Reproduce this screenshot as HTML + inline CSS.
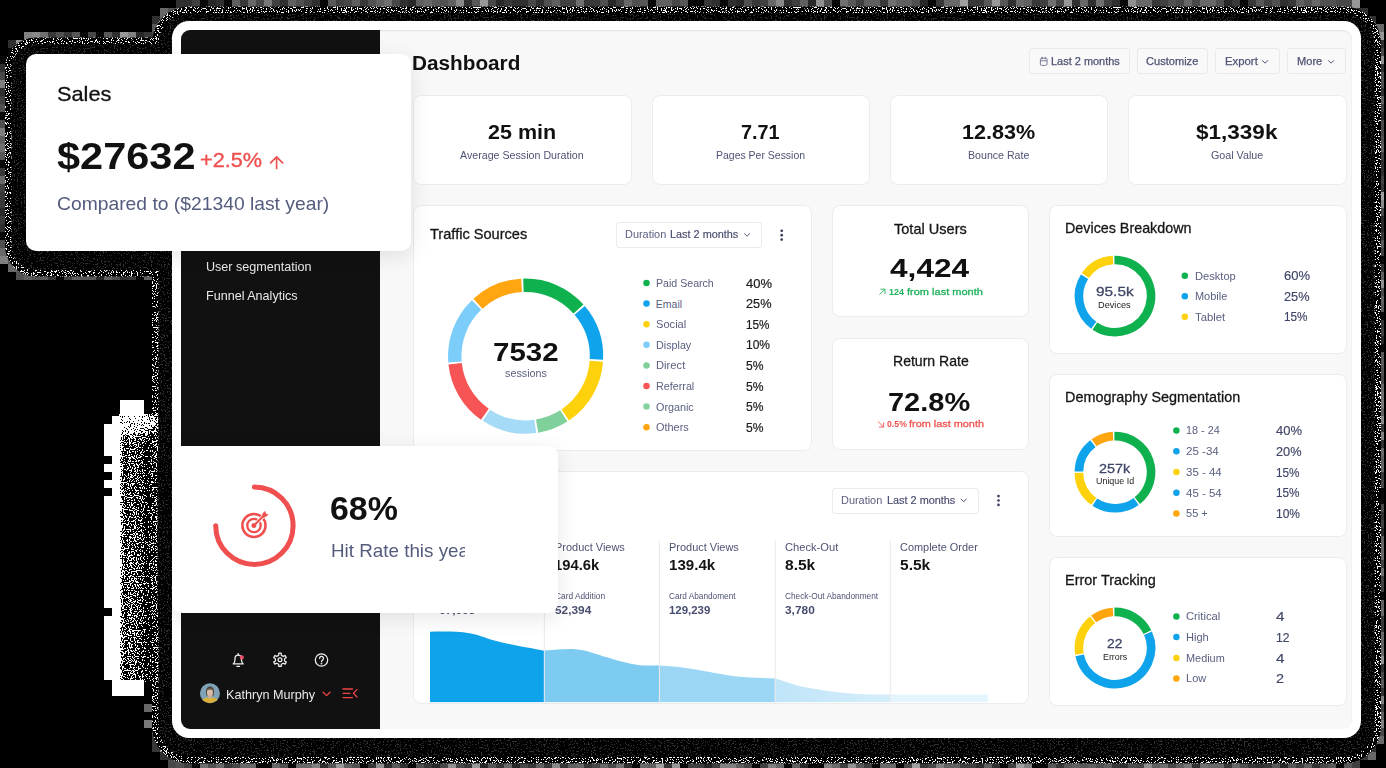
<!DOCTYPE html>
<html><head><meta charset="utf-8"><title>Dashboard</title>
<style>
html,body{margin:0;padding:0}
body{width:1386px;height:768px;background:#000;position:relative;overflow:hidden;font-family:"Liberation Sans",sans-serif}
.t{position:absolute;white-space:nowrap;line-height:1;display:block;transform-origin:0 0}
svg{position:absolute;left:0;top:0;overflow:visible}
</style></head><body>
<svg width="1386" height="768" viewBox="0 0 1386 768"><defs><filter id="nz" x="0" y="0" width="1386" height="768" filterUnits="userSpaceOnUse" color-interpolation-filters="sRGB"><feTurbulence type="fractalNoise" baseFrequency="0.8" numOctaves="2" seed="5" result="n"/><feColorMatrix in="n" type="matrix" values="0 0 0 0 1  0 0 0 0 1  0 0 0 0 1  60 0 0 0 -35.4" result="d"/><feComposite in="d" in2="SourceAlpha" operator="in"/></filter><filter id="nz2" x="0" y="0" width="1386" height="768" filterUnits="userSpaceOnUse" color-interpolation-filters="sRGB"><feTurbulence type="fractalNoise" baseFrequency="0.7" numOctaves="2" seed="11" result="n"/><feColorMatrix in="n" type="matrix" values="0 0 0 0 1  0 0 0 0 1  0 0 0 0 1  30 0 0 0 -18.2" result="d"/><feComposite in="d" in2="SourceAlpha" operator="in"/></filter><filter id="cn" x="96" y="390" width="76" height="316" filterUnits="userSpaceOnUse" color-interpolation-filters="sRGB"><feTurbulence type="fractalNoise" baseFrequency="0.85" numOctaves="1" seed="3" result="t"/><feColorMatrix in="t" type="matrix" values="0 0 0 0 1  0 0 0 0 1  0 0 0 0 1  2.6 0 0 0 -0.8" result="n"/><feComposite in="n" in2="SourceGraphic" operator="arithmetic" k1="0" k2="1" k3="1" k4="-1" result="s"/><feColorMatrix in="s" type="matrix" values="0 0 0 0 1  0 0 0 0 1  0 0 0 0 1  0 0 0 255 0"/></filter><linearGradient id="cg" gradientUnits="userSpaceOnUse" x1="104" x2="162" y1="0" y2="0"><stop offset="0.0000" stop-color="#fff" stop-opacity="1"/><stop offset="0.2414" stop-color="#fff" stop-opacity="1"/><stop offset="0.2759" stop-color="#fff" stop-opacity="0.75"/><stop offset="0.3276" stop-color="#fff" stop-opacity="0.45"/><stop offset="0.3793" stop-color="#fff" stop-opacity="0.34"/><stop offset="0.4483" stop-color="#fff" stop-opacity="0.42"/><stop offset="0.6207" stop-color="#fff" stop-opacity="0.36"/><stop offset="0.7414" stop-color="#fff" stop-opacity="0.18"/><stop offset="0.8966" stop-color="#fff" stop-opacity="0.06"/><stop offset="1.0000" stop-color="#fff" stop-opacity="0"/></linearGradient><filter id="bl2" x="80" y="370" width="120" height="100" filterUnits="userSpaceOnUse"><feGaussianBlur stdDeviation="6"/></filter><mask id="cm" maskUnits="userSpaceOnUse" x="90" y="380" width="100" height="340"><rect x="90" y="380" width="100" height="340" fill="url(#cg)"/><rect x="100" y="386" width="58" height="48" fill="#fff" fill-opacity="0.7" filter="url(#bl2)"/></mask></defs><path fill="rgb(8,8,8)" d="M200 0h8v8h-8zM224 0h8v8h-8zM320 0h8v8h-8zM648 0h8v8h-8zM688 0h8v8h-8zM696 0h8v8h-8zM720 0h8v8h-8zM832 0h8v8h-8zM928 0h8v8h-8zM1120 0h8v8h-8zM1240 0h8v8h-8zM80 32h8v8h-8zM96 32h8v8h-8zM8 48h8v8h-8zM0 56h8v8h-8zM0 112h8v8h-8zM0 160h8v8h-8zM0 232h8v8h-8zM1376 256h8v8h-8zM56 272h8v8h-8zM136 272h8v8h-8zM1376 312h8v8h-8zM1376 344h8v8h-8zM1376 488h8v8h-8zM1376 496h8v8h-8zM1376 592h8v8h-8zM192 760h8v8h-8zM256 760h8v8h-8zM264 760h8v8h-8zM288 760h8v8h-8zM360 760h8v8h-8zM408 760h8v8h-8zM632 760h8v8h-8zM680 760h8v8h-8zM752 760h8v8h-8zM784 760h8v8h-8zM808 760h8v8h-8zM816 760h8v8h-8zM872 760h8v8h-8zM896 760h8v8h-8zM1000 760h8v8h-8zM1032 760h8v8h-8zM1040 760h8v8h-8zM1336 760h8v8h-8z"/><path fill="rgb(40,40,40)" d="M208 0h8v8h-8zM408 0h8v8h-8zM496 0h8v8h-8zM608 0h8v8h-8zM736 0h8v8h-8zM808 0h8v8h-8zM920 0h8v8h-8zM1224 0h8v8h-8zM136 32h8v8h-8zM1376 112h8v8h-8zM0 208h8v8h-8zM1376 216h8v8h-8zM1376 224h8v8h-8zM96 272h8v8h-8zM1376 336h8v8h-8zM1376 528h8v8h-8zM432 760h8v8h-8zM480 760h8v8h-8zM512 760h8v8h-8zM704 760h8v8h-8zM800 760h8v8h-8zM1280 760h8v8h-8z"/><path fill="rgb(48,48,48)" d="M176 0h8v8h-8zM184 0h8v8h-8zM216 0h8v8h-8zM280 0h8v8h-8zM312 0h8v8h-8zM400 0h8v8h-8zM464 0h8v8h-8zM512 0h8v8h-8zM520 0h8v8h-8zM536 0h8v8h-8zM712 0h8v8h-8zM728 0h8v8h-8zM784 0h8v8h-8zM1008 0h8v8h-8zM1072 0h8v8h-8zM1088 0h8v8h-8zM1112 0h8v8h-8zM1280 0h8v8h-8zM1352 8h8v8h-8zM1360 8h8v8h-8zM152 16h8v8h-8zM1368 16h8v8h-8zM112 32h8v8h-8zM8 40h8v8h-8zM1376 40h8v8h-8zM0 64h8v8h-8zM1376 64h8v8h-8zM0 88h8v8h-8zM1376 88h8v8h-8zM1376 160h8v8h-8zM1376 168h8v8h-8zM0 224h8v8h-8zM1376 264h8v8h-8zM120 272h8v8h-8zM1376 440h8v8h-8zM1376 512h8v8h-8zM1376 664h8v8h-8zM1376 688h8v8h-8zM1368 744h8v8h-8zM160 752h8v8h-8zM168 752h8v8h-8zM320 760h8v8h-8zM384 760h8v8h-8zM400 760h8v8h-8zM624 760h8v8h-8zM976 760h8v8h-8zM992 760h8v8h-8zM1120 760h8v8h-8zM1192 760h8v8h-8zM1256 760h8v8h-8zM1312 760h8v8h-8z"/><path fill="rgb(56,56,56)" d="M240 0h8v8h-8zM360 0h8v8h-8zM504 0h8v8h-8zM584 0h8v8h-8zM592 0h8v8h-8zM704 0h8v8h-8zM752 0h8v8h-8zM880 0h8v8h-8zM936 0h8v8h-8zM968 0h8v8h-8zM976 0h8v8h-8zM1032 0h8v8h-8zM1152 0h8v8h-8zM1232 0h8v8h-8zM1248 0h8v8h-8zM1288 0h8v8h-8zM48 32h8v8h-8zM64 32h8v8h-8zM144 32h8v8h-8zM0 168h8v8h-8zM1376 184h8v8h-8zM0 192h8v8h-8zM0 200h8v8h-8zM0 216h8v8h-8zM1376 232h8v8h-8zM48 272h8v8h-8zM128 272h8v8h-8zM1376 320h8v8h-8zM1376 424h8v8h-8zM1376 472h8v8h-8zM1376 616h8v8h-8zM1376 624h8v8h-8zM152 736h8v8h-8zM152 744h8v8h-8zM1360 752h8v8h-8zM224 760h8v8h-8zM368 760h8v8h-8zM424 760h8v8h-8zM464 760h8v8h-8zM496 760h8v8h-8zM528 760h8v8h-8zM544 760h8v8h-8zM560 760h8v8h-8zM584 760h8v8h-8zM664 760h8v8h-8zM920 760h8v8h-8zM1056 760h8v8h-8zM1112 760h8v8h-8zM1224 760h8v8h-8zM1248 760h8v8h-8zM1264 760h8v8h-8z"/><path fill="rgb(64,64,64)" d="M192 0h8v8h-8zM272 0h8v8h-8zM304 0h8v8h-8zM336 0h8v8h-8zM560 0h8v8h-8zM568 0h8v8h-8zM616 0h8v8h-8zM760 0h8v8h-8zM792 0h8v8h-8zM856 0h8v8h-8zM1040 0h8v8h-8zM1104 0h8v8h-8zM1160 0h8v8h-8zM1264 0h8v8h-8zM0 96h8v8h-8zM1376 104h8v8h-8zM1376 152h8v8h-8zM1376 176h8v8h-8zM0 184h8v8h-8zM1376 248h8v8h-8zM64 272h8v8h-8zM1376 328h8v8h-8zM1376 520h8v8h-8zM1376 560h8v8h-8zM1376 576h8v8h-8zM1376 584h8v8h-8zM1376 704h8v8h-8zM152 728h8v8h-8zM184 760h8v8h-8zM688 760h8v8h-8zM696 760h8v8h-8zM712 760h8v8h-8zM760 760h8v8h-8zM840 760h8v8h-8zM864 760h8v8h-8zM960 760h8v8h-8zM968 760h8v8h-8zM1008 760h8v8h-8zM1296 760h8v8h-8zM1352 760h8v8h-8z"/><path fill="rgb(72,72,72)" d="M256 0h8v8h-8zM344 0h8v8h-8zM392 0h8v8h-8zM488 0h8v8h-8zM528 0h8v8h-8zM672 0h8v8h-8zM1056 0h8v8h-8zM1176 0h8v8h-8zM1192 0h8v8h-8zM1336 0h8v8h-8zM1344 0h8v8h-8zM88 32h8v8h-8zM152 32h8v8h-8zM1376 48h8v8h-8zM0 72h8v8h-8zM1376 120h8v8h-8zM1376 128h8v8h-8zM1376 208h8v8h-8zM1376 288h8v8h-8zM1376 376h8v8h-8zM1376 480h8v8h-8zM1376 504h8v8h-8zM1376 672h8v8h-8zM1376 728h8v8h-8zM168 760h8v8h-8zM232 760h8v8h-8zM440 760h8v8h-8zM456 760h8v8h-8zM520 760h8v8h-8zM592 760h8v8h-8zM608 760h8v8h-8zM744 760h8v8h-8zM904 760h8v8h-8zM928 760h8v8h-8zM1136 760h8v8h-8zM1168 760h8v8h-8zM1320 760h8v8h-8z"/><path fill="rgb(80,80,80)" d="M296 0h8v8h-8zM368 0h8v8h-8zM440 0h8v8h-8zM544 0h8v8h-8zM600 0h8v8h-8zM632 0h8v8h-8zM744 0h8v8h-8zM824 0h8v8h-8zM912 0h8v8h-8zM1168 0h8v8h-8zM1216 0h8v8h-8zM1272 0h8v8h-8zM1304 0h8v8h-8zM1320 0h8v8h-8zM1328 0h8v8h-8zM168 8h8v8h-8zM56 32h8v8h-8zM1376 72h8v8h-8zM1376 80h8v8h-8zM0 104h8v8h-8zM0 120h8v8h-8zM1376 136h8v8h-8zM0 240h8v8h-8zM16 272h8v8h-8zM32 272h8v8h-8zM112 272h8v8h-8zM1376 368h8v8h-8zM176 760h8v8h-8zM208 760h8v8h-8zM280 760h8v8h-8zM352 760h8v8h-8zM416 760h8v8h-8zM1096 760h8v8h-8zM1128 760h8v8h-8zM1240 760h8v8h-8z"/><path fill="rgb(88,88,88)" d="M328 0h8v8h-8zM432 0h8v8h-8zM472 0h8v8h-8zM640 0h8v8h-8zM680 0h8v8h-8zM848 0h8v8h-8zM984 0h8v8h-8zM1000 0h8v8h-8zM1256 0h8v8h-8zM152 24h8v8h-8zM72 32h8v8h-8zM104 32h8v8h-8zM0 152h8v8h-8zM1376 240h8v8h-8zM8 256h8v8h-8zM40 272h8v8h-8zM80 272h8v8h-8zM88 272h8v8h-8zM1376 304h8v8h-8zM1376 352h8v8h-8zM1376 360h8v8h-8zM1376 680h8v8h-8zM328 760h8v8h-8zM392 760h8v8h-8zM488 760h8v8h-8zM856 760h8v8h-8zM1048 760h8v8h-8zM1064 760h8v8h-8zM1080 760h8v8h-8zM1272 760h8v8h-8zM1288 760h8v8h-8zM1328 760h8v8h-8zM1344 760h8v8h-8z"/><path fill="rgb(96,96,96)" d="M232 0h8v8h-8zM288 0h8v8h-8zM352 0h8v8h-8zM376 0h8v8h-8zM416 0h8v8h-8zM448 0h8v8h-8zM552 0h8v8h-8zM656 0h8v8h-8zM664 0h8v8h-8zM800 0h8v8h-8zM864 0h8v8h-8zM872 0h8v8h-8zM896 0h8v8h-8zM904 0h8v8h-8zM1024 0h8v8h-8zM1296 0h8v8h-8zM160 16h8v8h-8zM1376 96h8v8h-8zM0 136h8v8h-8zM1376 144h8v8h-8zM16 264h8v8h-8zM24 272h8v8h-8zM72 272h8v8h-8zM104 272h8v8h-8zM144 272h8v8h-8zM1376 272h8v8h-8zM1376 296h8v8h-8zM1376 408h8v8h-8zM1376 456h8v8h-8zM1376 536h8v8h-8zM1376 600h8v8h-8zM1376 640h8v8h-8zM1376 712h8v8h-8zM344 760h8v8h-8zM536 760h8v8h-8zM568 760h8v8h-8zM648 760h8v8h-8zM736 760h8v8h-8zM792 760h8v8h-8zM944 760h8v8h-8zM952 760h8v8h-8zM984 760h8v8h-8zM1072 760h8v8h-8zM1088 760h8v8h-8zM1104 760h8v8h-8zM1152 760h8v8h-8zM1176 760h8v8h-8zM1304 760h8v8h-8z"/><path fill="rgb(104,104,104)" d="M248 0h8v8h-8zM424 0h8v8h-8zM624 0h8v8h-8zM768 0h8v8h-8zM944 0h8v8h-8zM952 0h8v8h-8zM1016 0h8v8h-8zM1080 0h8v8h-8zM1136 0h8v8h-8zM1144 0h8v8h-8zM1184 0h8v8h-8zM1200 0h8v8h-8zM1208 0h8v8h-8zM1312 0h8v8h-8zM160 8h8v8h-8zM1376 24h8v8h-8zM0 176h8v8h-8zM0 248h8v8h-8zM8 264h8v8h-8zM1376 384h8v8h-8zM1376 448h8v8h-8zM1376 464h8v8h-8zM1376 544h8v8h-8zM1376 552h8v8h-8zM1376 608h8v8h-8zM1376 632h8v8h-8zM1376 648h8v8h-8zM144 704h8v8h-8zM1376 736h8v8h-8zM1368 752h8v8h-8zM216 760h8v8h-8zM240 760h8v8h-8zM248 760h8v8h-8zM272 760h8v8h-8zM296 760h8v8h-8zM304 760h8v8h-8zM504 760h8v8h-8zM576 760h8v8h-8zM600 760h8v8h-8zM640 760h8v8h-8zM776 760h8v8h-8zM832 760h8v8h-8zM880 760h8v8h-8zM888 760h8v8h-8zM1208 760h8v8h-8zM1216 760h8v8h-8zM1232 760h8v8h-8z"/><path fill="rgb(112,112,112)" d="M384 0h8v8h-8zM576 0h8v8h-8zM840 0h8v8h-8zM888 0h8v8h-8zM1048 0h8v8h-8zM1096 0h8v8h-8zM40 32h8v8h-8zM0 144h8v8h-8zM1376 392h8v8h-8zM1376 568h8v8h-8zM200 760h8v8h-8zM616 760h8v8h-8zM1160 760h8v8h-8zM1200 760h8v8h-8z"/><path fill="rgb(120,120,120)" d="M264 0h8v8h-8zM1376 400h8v8h-8zM144 688h8v8h-8zM144 720h8v8h-8zM1184 760h8v8h-8z"/><path fill="rgb(128,128,128)" d="M24 32h8v8h-8zM128 32h8v8h-8zM0 80h8v8h-8zM0 128h8v8h-8zM0 256h8v8h-8zM144 400h8v8h-8zM1376 432h8v8h-8zM1376 696h8v8h-8zM1376 720h8v8h-8zM312 760h8v8h-8zM720 760h8v8h-8zM728 760h8v8h-8zM768 760h8v8h-8zM824 760h8v8h-8zM936 760h8v8h-8zM1024 760h8v8h-8z"/><path fill="rgb(136,136,136)" d="M456 0h8v8h-8zM776 0h8v8h-8zM32 32h8v8h-8zM1376 200h8v8h-8zM1376 416h8v8h-8zM552 760h8v8h-8z"/><path fill="rgb(144,144,144)" d="M816 0h8v8h-8zM1128 0h8v8h-8zM16 40h8v8h-8zM1376 56h8v8h-8zM1376 280h8v8h-8zM144 408h8v8h-8zM1376 656h8v8h-8zM376 760h8v8h-8zM448 760h8v8h-8zM848 760h8v8h-8zM1144 760h8v8h-8z"/><path fill="rgb(152,152,152)" d="M480 0h8v8h-8zM992 0h8v8h-8zM1064 0h8v8h-8zM1352 0h8v8h-8zM176 8h8v8h-8zM120 32h8v8h-8zM1376 32h8v8h-8zM336 760h8v8h-8zM472 760h8v8h-8zM672 760h8v8h-8z"/><path fill="rgb(160,160,160)" d="M960 0h8v8h-8zM1376 192h8v8h-8zM160 744h8v8h-8zM656 760h8v8h-8zM912 760h8v8h-8zM1016 760h8v8h-8z"/><path fill="rgb(200,200,200)" d="M144 680h8v8h-8z"/><rect x="104" y="400" width="536" height="296" rx="0" fill="#000"/><rect x="152" y="6.5" width="1229" height="757.0" rx="37" fill="#000"/><rect x="5" y="37.5" width="426.5" height="239.0" rx="31" fill="#000"/><rect x="151" y="429.5" width="428" height="208.5" rx="31" fill="#000"/><g filter="url(#nz)"><rect x="152" y="6.5" width="1229" height="757.0" rx="37" fill="#fff"/><rect x="5" y="37.5" width="426.5" height="239.0" rx="31" fill="#fff"/><rect x="151" y="429.5" width="428" height="208.5" rx="31" fill="#fff"/></g><g filter="url(#cn)"><rect x="119" y="414" width="521" height="268" rx="0" fill="#fff" mask="url(#cm)"/></g><path fill="#fff" d="M120 400h8v8h-8zM128 400h8v8h-8zM136 400h8v8h-8zM120 408h8v8h-8zM128 408h8v8h-8zM136 408h8v8h-8zM112 416h8v8h-8zM104 424h8v8h-8zM112 424h8v8h-8zM104 432h8v8h-8zM112 432h8v8h-8zM104 440h8v8h-8zM112 440h8v8h-8zM104 448h8v8h-8zM112 448h8v8h-8zM112 456h8v8h-8zM104 464h8v8h-8zM112 464h8v8h-8zM112 472h8v8h-8zM104 480h8v8h-8zM112 480h8v8h-8zM112 488h8v8h-8zM104 496h8v8h-8zM112 496h8v8h-8zM104 504h8v8h-8zM112 504h8v8h-8zM104 512h8v8h-8zM112 512h8v8h-8zM104 520h8v8h-8zM112 520h8v8h-8zM104 528h8v8h-8zM112 528h8v8h-8zM104 536h8v8h-8zM112 536h8v8h-8zM104 544h8v8h-8zM112 544h8v8h-8zM104 552h8v8h-8zM112 552h8v8h-8zM104 560h8v8h-8zM112 560h8v8h-8zM104 568h8v8h-8zM112 568h8v8h-8zM104 576h8v8h-8zM112 576h8v8h-8zM104 584h8v8h-8zM112 584h8v8h-8zM104 592h8v8h-8zM112 592h8v8h-8zM104 600h8v8h-8zM112 600h8v8h-8zM112 608h8v8h-8zM104 616h8v8h-8zM112 616h8v8h-8zM104 624h8v8h-8zM112 624h8v8h-8zM104 632h8v8h-8zM112 632h8v8h-8zM104 640h8v8h-8zM112 640h8v8h-8zM104 648h8v8h-8zM112 648h8v8h-8zM104 656h8v8h-8zM112 656h8v8h-8zM104 664h8v8h-8zM112 664h8v8h-8zM104 672h8v8h-8zM112 672h8v8h-8zM112 680h8v8h-8zM120 680h8v8h-8zM128 680h8v8h-8zM136 680h8v8h-8zM112 688h8v8h-8zM120 688h8v8h-8zM128 688h8v8h-8zM136 688h8v8h-8z"/><rect x="158.5" y="13.0" width="1216.0" height="744.0" rx="30.5" fill="#000"/><rect x="11.5" y="44.0" width="413.5" height="226.0" rx="24.5" fill="#000"/><rect x="157.5" y="436.0" width="415.0" height="195.5" rx="24.5" fill="#000"/><g filter="url(#nz2)" opacity="0.19"><rect x="158.5" y="13.0" width="1216.0" height="744.0" rx="30.5" fill="#fff"/><rect x="11.5" y="44.0" width="413.5" height="226.0" rx="24.5" fill="#fff"/><rect x="157.5" y="436.0" width="415.0" height="195.5" rx="24.5" fill="#fff"/></g></svg>
<div style="position:absolute;left:172px;top:21px;width:1189px;height:717px;background:#fff;border-radius:17px;"></div>
<div style="position:absolute;left:181px;top:30px;width:1171px;height:699px;background:#f8f8f8;border-radius:9px;box-shadow:inset 0 1px 2px rgba(0,0,0,0.10);"></div>
<div style="position:absolute;left:181px;top:30px;width:199px;height:699px;background:#111;border-radius:9px 0 0 9px;"></div>
<span class="t" style="left:206.24px;top:260.65px;font-size:12.7px;color:#e9e9e9;transform:scaleX(0.9908);">User segmentation</span>
<span class="t" style="left:206.24px;top:289.65px;font-size:12.7px;color:#e9e9e9;transform:scaleX(0.9906);">Funnel Analytics</span>
<svg width="1386" height="768" viewBox="0 0 1386 768" fill="none" stroke="#f2f2f2" stroke-width="1.25" stroke-linecap="round" stroke-linejoin="round"><g transform="translate(238.2 660)"><path d="M-5 3.900h10c-1.300-1-1.800-2.200-1.800-4.300v-1.400a3.200 3.200 0 0 0-6.400 0v1.400c0 2.100-.5 3.300-1.800 4.300z"/><path d="M-1.300 6.300h2.600"/><path d="M0 -6.500v1.300"/><circle cx="3.600" cy="-2.600" r="2.100" fill="#e8506a" stroke="none"/></g><path d="M278.81 653.21L281.19 653.21L281.31 655.29L283.25 656.41L285.12 655.48L286.30 657.53L284.56 658.68L284.56 660.92L286.30 662.07L285.12 664.12L283.25 663.19L281.31 664.31L281.19 666.39L278.81 666.39L278.69 664.31L276.75 663.19L274.88 664.12L273.70 662.07L275.44 660.92L275.44 658.68L273.70 657.53L274.88 655.48L276.75 656.41L278.69 655.29Z"/><circle cx="280" cy="659.8" r="1.9"/><g transform="translate(321.5 660)"><circle r="6.2"/><path d="M-1.9 -1.6a1.95 1.95 0 1 1 2.9 1.7c-.7.4-1 .8-1 1.6"/><circle cx="0" cy="3.6" r="0.35" fill="#f2f2f2"/></g><path d="M323.2 692.2l3.4 3.4 3.4-3.4" stroke="#ef4444" stroke-width="1.3"/><g stroke="#ef4444" stroke-width="1.3"><path d="M343 689h9.5M343 693.3h7M343 697.6h9.5"/><path d="M357 689.6l-3.6 3.7 3.6 3.7"/></g></svg>
<svg width="1386" height="768" viewBox="0 0 1386 768"><defs><clipPath id="av"><circle cx="209.95" cy="693.2" r="10"/></clipPath></defs><g clip-path="url(#av)"><rect x="199" y="683" width="22" height="22" fill="#7fa2b7"/><path d="M206 692.5c-.6-8 8.6-8 8 0l-.4 3h-7.2z" fill="#4c4238"/><ellipse cx="209.95" cy="692.6" rx="3.05" ry="4.1" fill="#d9bdaa"/><path d="M207 690.2c1-2.4 5-2.4 6 0-1.800-.9-4.200-.9-6 0z" fill="#5a4a3c"/><rect x="208.300" y="695.500" width="3.300" height="3.500" fill="#cfae98"/><path d="M200 705c.8-5.400 4-7 7.600-7.400 1.500 1.300 3.300 1.300 4.800 0 3.600.4 6.800 2 7.600 7.400z" fill="#d8b03a"/></g></svg>
<span class="t" style="left:225.91px;top:687.70px;font-size:13.2px;color:#e9e9e9;transform:scaleX(0.9569);">Kathryn Murphy</span>
<span class="t" style="left:412.43px;top:51.75px;font-size:21.1px;color:#111;font-weight:700;transform:scaleX(0.9832);">Dashboard</span>
<div style="position:absolute;left:1029px;top:48.3px;width:101px;height:26.200000000000003px;background:#f9f9f9;border-radius:4px;box-shadow:inset 0 0 0 1px #e9e9e9;"></div>
<div style="position:absolute;left:1137px;top:48.3px;width:71.40000000000009px;height:26.200000000000003px;background:#f9f9f9;border-radius:4px;box-shadow:inset 0 0 0 1px #e9e9e9;"></div>
<div style="position:absolute;left:1215.3px;top:48.3px;width:65.20000000000005px;height:26.200000000000003px;background:#f9f9f9;border-radius:4px;box-shadow:inset 0 0 0 1px #e9e9e9;"></div>
<div style="position:absolute;left:1287.4px;top:48.3px;width:59.09999999999991px;height:26.200000000000003px;background:#f9f9f9;border-radius:4px;box-shadow:inset 0 0 0 1px #e9e9e9;"></div>
<span class="t" style="left:1051.35px;top:55.60px;font-size:10.8px;color:#4d5373;transform:scaleX(1.0143);-webkit-text-stroke:0.25px #4d5373;">Last 2 months</span>
<span class="t" style="left:1146.15px;top:55.60px;font-size:10.8px;color:#4d5373;transform:scaleX(1.0251);-webkit-text-stroke:0.25px #4d5373;">Customize</span>
<span class="t" style="left:1224.85px;top:55.60px;font-size:10.8px;color:#4d5373;transform:scaleX(1.0505);-webkit-text-stroke:0.25px #4d5373;">Export</span>
<span class="t" style="left:1296.85px;top:55.60px;font-size:10.8px;color:#4d5373;transform:scaleX(1.0279);-webkit-text-stroke:0.25px #4d5373;">More</span>
<svg width="1386" height="768" viewBox="0 0 1386 768" fill="none" stroke="#4d5373" stroke-width="1" stroke-linecap="round" stroke-linejoin="round"><g stroke="#676d8a" stroke-width="0.85"><rect x="1040.4" y="58.2" width="6.6" height="7.2" rx="1.3"/><path d="M1040.4 60.8h6.6M1042.1 57.2v1.8M1045.3 57.2v1.8"/></g><path d="M1262.5 60.6l2.6 2.6 2.6-2.6"/><path d="M1328.5 60.6l2.6 2.6 2.6-2.6"/></svg>
<div style="position:absolute;left:413px;top:95px;width:219px;height:90px;background:#fff;border-radius:8px;box-shadow:inset 0 0 0 1px #ececec;"></div>
<span class="t" style="left:487.93px;top:121.70px;font-size:20.4px;color:#111;font-weight:700;transform:scaleX(1.0548);">25 min</span>
<span class="t" style="left:460.35px;top:148.70px;font-size:11.6px;color:#4d5373;transform:scaleX(0.9197);">Average Session Duration</span>
<div style="position:absolute;left:651.6px;top:95px;width:218.39999999999998px;height:90px;background:#fff;border-radius:8px;box-shadow:inset 0 0 0 1px #ececec;"></div>
<span class="t" style="left:740.98px;top:121.70px;font-size:20.4px;color:#111;font-weight:700;transform:scaleX(0.9738);">7.71</span>
<span class="t" style="left:715.95px;top:148.70px;font-size:11.6px;color:#4d5373;transform:scaleX(0.9035);">Pages Per Session</span>
<div style="position:absolute;left:890.1px;top:95px;width:218.39999999999998px;height:90px;background:#fff;border-radius:8px;box-shadow:inset 0 0 0 1px #ececec;"></div>
<span class="t" style="left:962.18px;top:121.70px;font-size:20.4px;color:#111;font-weight:700;transform:scaleX(1.0589);">12.83%</span>
<span class="t" style="left:968.30px;top:148.70px;font-size:11.6px;color:#4d5373;transform:scaleX(0.9157);">Bounce Rate</span>
<div style="position:absolute;left:1128px;top:95px;width:218.9000000000001px;height:90px;background:#fff;border-radius:8px;box-shadow:inset 0 0 0 1px #ececec;"></div>
<span class="t" style="left:1196.23px;top:121.70px;font-size:20.4px;color:#111;font-weight:700;transform:scaleX(1.1048);">$1,339k</span>
<span class="t" style="left:1211.05px;top:148.70px;font-size:11.6px;color:#4d5373;transform:scaleX(0.9235);">Goal Value</span>
<div style="position:absolute;left:413px;top:205px;width:398.5px;height:245.5px;background:#fff;border-radius:8px;box-shadow:inset 0 0 0 1px #ececec;"></div>
<span class="t" style="left:429.91px;top:227.10px;font-size:14.8px;color:#161616;transform:scaleX(0.9857);-webkit-text-stroke:0.3px #161616;">Traffic Sources</span>
<div style="position:absolute;left:615.6px;top:222.3px;width:146.10000000000002px;height:25.69999999999999px;background:#fff;border-radius:4px;box-shadow:inset 0 0 0 1px #ebebeb;"></div>
<span class="t" style="left:624.66px;top:229.00px;font-size:10.6px;color:#5b6180;transform:scaleX(1.0306);">Duration</span>
<span class="t" style="left:670.36px;top:229.00px;font-size:10.6px;color:#454a6b;transform:scaleX(1.0259);-webkit-text-stroke:0.15px #454a6b;">Last 2 months</span>
<svg width="1386" height="768" viewBox="0 0 1386 768"><path d="M523.43 285.33A70.9 70.9 0 0 1 578.50 308.99" stroke="#0fb14f" stroke-width="13.4" fill="none"/><path d="M579.71 310.39A70.9 70.9 0 0 1 596.43 359.35" stroke="#0ea3ea" stroke-width="13.4" fill="none"/><path d="M596.32 361.21A70.9 70.9 0 0 1 565.30 414.94" stroke="#fdd20c" stroke-width="13.4" fill="none"/><path d="M563.75 415.96A70.9 70.9 0 0 1 537.12 426.16" stroke="#7fd09a" stroke-width="13.4" fill="none"/><path d="M535.28 426.44A70.9 70.9 0 0 1 486.42 415.29" stroke="#a6dbf7" stroke-width="13.4" fill="none"/><path d="M484.88 414.24A70.9 70.9 0 0 1 455.11 363.80" stroke="#f75555" stroke-width="13.4" fill="none"/><path d="M454.93 361.95A70.9 70.9 0 0 1 476.57 304.98" stroke="#7ccdfa" stroke-width="13.4" fill="none"/><path d="M477.93 303.72A70.9 70.9 0 0 1 521.58 285.41" stroke="#fea50f" stroke-width="13.4" fill="none"/><path d="M744.600 233.700l2.500 2.500 2.500-2.500" fill="none" stroke="#4d5373" stroke-width="1" stroke-linecap="round" stroke-linejoin="round"/><circle cx="781.7" cy="230.8" r="1.35" fill="#3a3f5c"/><circle cx="781.7" cy="235.2" r="1.35" fill="#3a3f5c"/><circle cx="781.7" cy="239.6" r="1.35" fill="#3a3f5c"/><circle cx="646.5" cy="283" r="3.25" fill="#0fb14f"/><circle cx="646.5" cy="303.6" r="3.25" fill="#0ea3ea"/><circle cx="646.5" cy="324.2" r="3.25" fill="#fdd20c"/><circle cx="646.5" cy="344.8" r="3.25" fill="#7ccdfa"/><circle cx="646.5" cy="365.4" r="3.25" fill="#7fd09a"/><circle cx="646.5" cy="386" r="3.25" fill="#f75555"/><circle cx="646.5" cy="406.6" r="3.25" fill="#86d3a0"/><circle cx="646.5" cy="427.3" r="3.25" fill="#fea50f"/></svg>
<span class="t" style="left:655.87px;top:277.95px;font-size:10.5px;color:#596080;transform:scaleX(1.0097);">Paid Search</span>
<span class="t" style="left:746.05px;top:277.65px;font-size:12.5px;color:#1c1c1c;transform:scaleX(1.0387);-webkit-text-stroke:0.2px #1c1c1c;">40%</span>
<span class="t" style="left:655.87px;top:298.55px;font-size:10.5px;color:#596080;">Email</span>
<span class="t" style="left:746.05px;top:298.25px;font-size:12.5px;color:#1c1c1c;transform:scaleX(1.0187);-webkit-text-stroke:0.2px #1c1c1c;">25%</span>
<span class="t" style="left:655.87px;top:319.15px;font-size:10.5px;color:#596080;transform:scaleX(1.0577);">Social</span>
<span class="t" style="left:746.05px;top:318.85px;font-size:12.5px;color:#1c1c1c;transform:scaleX(0.9388);-webkit-text-stroke:0.2px #1c1c1c;">15%</span>
<span class="t" style="left:655.87px;top:339.75px;font-size:10.5px;color:#596080;transform:scaleX(1.0239);">Display</span>
<span class="t" style="left:746.05px;top:339.45px;font-size:12.5px;color:#1c1c1c;transform:scaleX(0.9588);-webkit-text-stroke:0.2px #1c1c1c;">10%</span>
<span class="t" style="left:655.87px;top:360.35px;font-size:10.5px;color:#596080;transform:scaleX(1.0670);">Direct</span>
<span class="t" style="left:746.05px;top:360.05px;font-size:12.5px;color:#1c1c1c;transform:scaleX(0.9680);-webkit-text-stroke:0.2px #1c1c1c;">5%</span>
<span class="t" style="left:655.87px;top:380.95px;font-size:10.5px;color:#596080;transform:scaleX(1.0241);">Referral</span>
<span class="t" style="left:746.05px;top:380.65px;font-size:12.5px;color:#1c1c1c;transform:scaleX(0.9680);-webkit-text-stroke:0.2px #1c1c1c;">5%</span>
<span class="t" style="left:655.87px;top:401.55px;font-size:10.5px;color:#596080;transform:scaleX(1.0270);">Organic</span>
<span class="t" style="left:746.05px;top:401.25px;font-size:12.5px;color:#1c1c1c;transform:scaleX(0.9680);-webkit-text-stroke:0.2px #1c1c1c;">5%</span>
<span class="t" style="left:655.87px;top:422.25px;font-size:10.5px;color:#596080;transform:scaleX(1.0395);">Others</span>
<span class="t" style="left:746.05px;top:421.95px;font-size:12.5px;color:#1c1c1c;transform:scaleX(0.9680);-webkit-text-stroke:0.2px #1c1c1c;">5%</span>
<span class="t" style="left:492.52px;top:338.80px;font-size:26.4px;color:#111;font-weight:700;transform:scaleX(1.1166);">7532</span>
<span class="t" style="left:504.64px;top:368.10px;font-size:11px;color:#5b6180;transform:scaleX(0.9795);">sessions</span>
<div style="position:absolute;left:832px;top:205px;width:196.79999999999995px;height:112.39999999999998px;background:#fff;border-radius:8px;box-shadow:inset 0 0 0 1px #ececec;"></div>
<div style="position:absolute;left:832px;top:337.7px;width:196.79999999999995px;height:112.80000000000001px;background:#fff;border-radius:8px;box-shadow:inset 0 0 0 1px #ececec;"></div>
<span class="t" style="left:894.21px;top:221.50px;font-size:14.8px;color:#161616;transform:scaleX(0.9833);-webkit-text-stroke:0.3px #161616;">Total Users</span>
<span class="t" style="left:890.22px;top:255.00px;font-size:26.4px;color:#111;font-weight:700;transform:scaleX(1.1987);">4,424</span>
<span class="t" style="left:889.20px;top:287.80px;font-size:8.4px;color:#1fb35c;font-weight:700;transform:scaleX(1.0660);">124</span>
<span class="t" style="left:906.82px;top:286.65px;font-size:9.7px;color:#1fb35c;transform:scaleX(1.1363);-webkit-text-stroke:0.3px #1fb35c;">from last month</span>
<span class="t" style="left:892.71px;top:354.30px;font-size:14.8px;color:#161616;transform:scaleX(0.9498);-webkit-text-stroke:0.3px #161616;">Return Rate</span>
<span class="t" style="left:888.42px;top:388.50px;font-size:26.4px;color:#111;font-weight:700;transform:scaleX(1.0979);">72.8%</span>
<span class="t" style="left:887.40px;top:420.20px;font-size:8.4px;color:#ef5350;font-weight:700;transform:scaleX(1.0426);">0.5%</span>
<span class="t" style="left:909.22px;top:419.45px;font-size:9.7px;color:#ef5350;transform:scaleX(1.1228);-webkit-text-stroke:0.3px #ef5350;">from last month</span>
<svg width="1386" height="768" viewBox="0 0 1386 768" fill="none" stroke-width="1" stroke-linecap="round" stroke-linejoin="round"><path d="M879.8 294.400l5-5M880.800 289.200h4.200v4.200" stroke="#1fb35c" stroke-width="0.9"/><path d="M878.400 421.800l5 5M879.400 427h4.200v-4.200" stroke="#ef5350" stroke-width="0.9"/></svg>
<div style="position:absolute;left:1048.7px;top:204.9px;width:298.20000000000005px;height:148.99999999999997px;background:#fff;border-radius:8px;box-shadow:inset 0 0 0 1px #ececec;"></div>
<span class="t" style="left:1064.91px;top:221.30px;font-size:14.8px;color:#161616;transform:scaleX(0.9671);-webkit-text-stroke:0.3px #161616;">Devices Breakdown</span>
<svg width="1386" height="768" viewBox="0 0 1386 768"><path d="M1114.43 260.00A36.1 36.1 0 1 1 1094.87 326.06" stroke="#0fb14f" stroke-width="8.6" fill="none"/><path d="M1093.73 325.27A36.1 36.1 0 0 1 1084.55 276.70" stroke="#0ea3ea" stroke-width="8.6" fill="none"/><path d="M1085.32 275.55A36.1 36.1 0 0 1 1113.05 260.05" stroke="#fdd20c" stroke-width="8.6" fill="none"/><circle cx="1184.8" cy="275.8" r="3.25" fill="#0fb14f"/><circle cx="1184.8" cy="296.2" r="3.25" fill="#0ea3ea"/><circle cx="1184.8" cy="316.7" r="3.25" fill="#fdd20c"/></svg>
<span class="t" style="left:1096.18px;top:285.45px;font-size:13.7px;color:#3f4566;transform:scaleX(1.1242);-webkit-text-stroke:0.3px #3f4566;">95.5k</span>
<span class="t" style="left:1098.44px;top:300.95px;font-size:9.3px;color:#222;transform:scaleX(0.9891);">Devices</span>
<span class="t" style="left:1194.77px;top:270.65px;font-size:10.5px;color:#596080;transform:scaleX(1.0578);">Desktop</span>
<span class="t" style="left:1284.45px;top:270.35px;font-size:12.5px;color:#3f4566;transform:scaleX(1.0387);-webkit-text-stroke:0.15px #3f4566;">60%</span>
<span class="t" style="left:1194.77px;top:291.05px;font-size:10.5px;color:#596080;transform:scaleX(1.0427);">Mobile</span>
<span class="t" style="left:1284.45px;top:290.75px;font-size:12.5px;color:#3f4566;transform:scaleX(1.0187);-webkit-text-stroke:0.15px #3f4566;">25%</span>
<span class="t" style="left:1194.77px;top:311.55px;font-size:10.5px;color:#596080;transform:scaleX(1.0795);">Tablet</span>
<span class="t" style="left:1284.45px;top:311.25px;font-size:12.5px;color:#3f4566;transform:scaleX(0.9388);-webkit-text-stroke:0.15px #3f4566;">15%</span>
<div style="position:absolute;left:1048.7px;top:373.9px;width:298.20000000000005px;height:162.70000000000005px;background:#fff;border-radius:8px;box-shadow:inset 0 0 0 1px #ececec;"></div>
<span class="t" style="left:1064.91px;top:390.30px;font-size:14.8px;color:#161616;transform:scaleX(0.9730);-webkit-text-stroke:0.3px #161616;">Demography Segmentation</span>
<svg width="1386" height="768" viewBox="0 0 1386 768"><path d="M1114.43 436.10A36.1 36.1 0 0 1 1137.27 500.61" stroke="#0fb14f" stroke-width="8.6" fill="none"/><path d="M1136.17 501.44A36.1 36.1 0 0 1 1094.87 502.16" stroke="#0ea3ea" stroke-width="8.6" fill="none"/><path d="M1093.73 501.37A36.1 36.1 0 0 1 1078.91 472.89" stroke="#fdd20c" stroke-width="8.6" fill="none"/><path d="M1078.91 471.51A36.1 36.1 0 0 1 1092.92 443.64" stroke="#0ea3ea" stroke-width="8.6" fill="none"/><path d="M1094.04 442.81A36.1 36.1 0 0 1 1113.05 436.15" stroke="#fea50f" stroke-width="8.6" fill="none"/><circle cx="1176.4" cy="430.6" r="3.25" fill="#0fb14f"/><circle cx="1176.4" cy="451.3" r="3.25" fill="#0ea3ea"/><circle cx="1176.4" cy="472.1" r="3.25" fill="#fdd20c"/><circle cx="1176.4" cy="492.8" r="3.25" fill="#0ea3ea"/><circle cx="1176.4" cy="513.4" r="3.25" fill="#fea50f"/></svg>
<span class="t" style="left:1099.43px;top:461.55px;font-size:13.7px;color:#3f4566;transform:scaleX(1.0491);-webkit-text-stroke:0.3px #3f4566;">257k</span>
<span class="t" style="left:1095.74px;top:477.05px;font-size:9.3px;color:#222;transform:scaleX(0.9574);">Unique Id</span>
<span class="t" style="left:1186.37px;top:425.45px;font-size:10.5px;color:#596080;transform:scaleX(1.0323);">18 - 24</span>
<span class="t" style="left:1276.05px;top:425.15px;font-size:12.5px;color:#3f4566;transform:scaleX(1.0387);-webkit-text-stroke:0.15px #3f4566;">40%</span>
<span class="t" style="left:1186.37px;top:446.15px;font-size:10.5px;color:#596080;transform:scaleX(1.1000);">25 -34</span>
<span class="t" style="left:1276.05px;top:445.85px;font-size:12.5px;color:#3f4566;transform:scaleX(1.0187);-webkit-text-stroke:0.15px #3f4566;">20%</span>
<span class="t" style="left:1186.37px;top:466.95px;font-size:10.5px;color:#596080;transform:scaleX(1.0935);">35 - 44</span>
<span class="t" style="left:1276.05px;top:466.65px;font-size:12.5px;color:#3f4566;transform:scaleX(0.9388);-webkit-text-stroke:0.15px #3f4566;">15%</span>
<span class="t" style="left:1186.37px;top:487.65px;font-size:10.5px;color:#596080;transform:scaleX(1.0935);">45 - 54</span>
<span class="t" style="left:1276.05px;top:487.35px;font-size:12.5px;color:#3f4566;transform:scaleX(0.9388);-webkit-text-stroke:0.15px #3f4566;">15%</span>
<span class="t" style="left:1186.37px;top:508.25px;font-size:10.5px;color:#596080;transform:scaleX(1.0495);">55 +</span>
<span class="t" style="left:1276.05px;top:507.95px;font-size:12.5px;color:#3f4566;transform:scaleX(0.9588);-webkit-text-stroke:0.15px #3f4566;">10%</span>
<div style="position:absolute;left:1048.7px;top:556.7px;width:298.20000000000005px;height:148.89999999999998px;background:#fff;border-radius:8px;box-shadow:inset 0 0 0 1px #ececec;"></div>
<span class="t" style="left:1064.91px;top:573.10px;font-size:14.8px;color:#161616;transform:scaleX(0.9769);-webkit-text-stroke:0.3px #161616;">Error Tracking</span>
<svg width="1386" height="768" viewBox="0 0 1386 768"><path d="M1114.43 611.90A36.1 36.1 0 0 1 1147.42 632.12" stroke="#0fb14f" stroke-width="8.6" fill="none"/><path d="M1148.00 633.37A36.1 36.1 0 1 1 1079.68 655.44" stroke="#0ea3ea" stroke-width="8.6" fill="none"/><path d="M1079.42 654.08A36.1 36.1 0 0 1 1092.53 619.75" stroke="#fdd20c" stroke-width="8.6" fill="none"/><path d="M1093.63 618.91A36.1 36.1 0 0 1 1113.05 611.95" stroke="#fea50f" stroke-width="8.6" fill="none"/><circle cx="1176.4" cy="616.5" r="3.25" fill="#0fb14f"/><circle cx="1176.4" cy="637.1" r="3.25" fill="#0ea3ea"/><circle cx="1176.4" cy="658" r="3.25" fill="#fdd20c"/><circle cx="1176.4" cy="678.6" r="3.25" fill="#fea50f"/></svg>
<span class="t" style="left:1107.33px;top:637.35px;font-size:13.7px;color:#3f4566;transform:scaleX(1.0072);-webkit-text-stroke:0.3px #3f4566;">22</span>
<span class="t" style="left:1102.74px;top:652.85px;font-size:9.3px;color:#222;transform:scaleX(0.9527);">Errors</span>
<span class="t" style="left:1186.37px;top:611.35px;font-size:10.5px;color:#596080;transform:scaleX(1.0675);">Critical</span>
<span class="t" style="left:1276.05px;top:611.05px;font-size:12.5px;color:#3f4566;transform:scaleX(1.2225);-webkit-text-stroke:0.15px #3f4566;">4</span>
<span class="t" style="left:1186.37px;top:631.95px;font-size:10.5px;color:#596080;transform:scaleX(1.0532);">High</span>
<span class="t" style="left:1276.05px;top:631.65px;font-size:12.5px;color:#3f4566;transform:scaleX(0.9708);-webkit-text-stroke:0.15px #3f4566;">12</span>
<span class="t" style="left:1186.37px;top:652.85px;font-size:10.5px;color:#596080;transform:scaleX(1.0375);">Medium</span>
<span class="t" style="left:1276.05px;top:652.55px;font-size:12.5px;color:#3f4566;transform:scaleX(1.2225);-webkit-text-stroke:0.15px #3f4566;">4</span>
<span class="t" style="left:1186.37px;top:673.45px;font-size:10.5px;color:#596080;transform:scaleX(1.0516);">Low</span>
<span class="t" style="left:1276.05px;top:673.15px;font-size:12.5px;color:#3f4566;transform:scaleX(1.1506);-webkit-text-stroke:0.15px #3f4566;">2</span>
<div style="position:absolute;left:413px;top:470.6px;width:616.3px;height:233.0px;background:#fff;border-radius:8px;box-shadow:inset 0 0 0 1px #ececec;"></div>
<div style="position:absolute;left:832.2px;top:487.7px;width:146.79999999999995px;height:26.000000000000057px;background:#fff;border-radius:4px;box-shadow:inset 0 0 0 1px #ebebeb;"></div>
<span class="t" style="left:841.36px;top:494.50px;font-size:10.6px;color:#5b6180;transform:scaleX(1.0306);">Duration</span>
<span class="t" style="left:886.96px;top:494.50px;font-size:10.6px;color:#454a6b;transform:scaleX(1.0259);-webkit-text-stroke:0.15px #454a6b;">Last 2 months</span>
<svg width="1386" height="768" viewBox="0 0 1386 768"><defs><linearGradient id="g4" x1="0" x2="1" y1="0" y2="0"><stop offset="0" stop-color="#bfe4f8"/><stop offset="1" stop-color="#d6eefb"/></linearGradient><clipPath id="fc"><rect x="415" y="472" width="612.8" height="230.3" rx="9"/></clipPath></defs><path d="M961.200 499.200l2.500 2.500 2.500-2.500" fill="none" stroke="#4d5373" stroke-width="1" stroke-linecap="round" stroke-linejoin="round"/><circle cx="998.5" cy="496.1" r="1.35" fill="#3a3f5c"/><circle cx="998.5" cy="500.5" r="1.35" fill="#3a3f5c"/><circle cx="998.5" cy="504.9" r="1.35" fill="#3a3f5c"/><g clip-path="url(#fc)"><path fill="#0ea3ea" d="M430 702.4V631.8C445 631.4 458 631.6 469.3 633.2C480 635 486 638.2 492.4 640C510 645 530 648 544.3 650.8V702.4z"/><path fill="#7ecbf1" d="M544.3 702.4V650.6C556 650 566 648.6 575.5 649.3C586 650.2 594 653.5 603 656.2C618 660.5 632 665 644.7 665.5C650 665.7 655 665.4 659.4 665.4V702.4z"/><path fill="#9bd7f4" d="M659.4 702.4V665.4C674 666 688 668 700 670.2C714 672.8 725 675 737 676.4C750 677.8 762 677.6 775.2 678.6V702.4z"/><path fill="url(#g4)" d="M775.2 702.4V678.6C783 680.6 790 683.6 797 685.4C812 688.8 832 691.6 852.5 693.8C866 694.8 878 694.4 890.3 694.5V702.4z"/><path fill="#e4f5fd" d="M890.3 702.4V694.5H988V702.4z"/></g><path d="M544.3 540.8V703" stroke="#e9e9eb" stroke-width="1"/><path d="M659.4 540.8V703" stroke="#e9e9eb" stroke-width="1"/><path d="M775.2 540.8V703" stroke="#e9e9eb" stroke-width="1"/><path d="M890.3 540.8V703" stroke="#e9e9eb" stroke-width="1"/></svg>
<span class="t" style="left:554.64px;top:542.10px;font-size:11px;color:#4d5373;transform:scaleX(0.9959);">Product Views</span>
<span class="t" style="left:554.43px;top:557.75px;font-size:14.5px;color:#141414;font-weight:700;transform:scaleX(1.0199);">194.6k</span>
<span class="t" style="left:554.77px;top:591.90px;font-size:8.8px;color:#4d5373;transform:scaleX(0.9475);">Card Addition</span>
<span class="t" style="left:554.65px;top:604.55px;font-size:10.9px;color:#474d6e;font-weight:700;transform:scaleX(1.0899);">52,394</span>
<span class="t" style="left:669.34px;top:542.10px;font-size:11px;color:#4d5373;transform:scaleX(0.9959);">Product Views</span>
<span class="t" style="left:669.13px;top:557.75px;font-size:14.5px;color:#141414;font-weight:700;transform:scaleX(1.0424);">139.4k</span>
<span class="t" style="left:669.47px;top:591.90px;font-size:8.8px;color:#4d5373;transform:scaleX(0.9384);">Card Abandoment</span>
<span class="t" style="left:669.35px;top:604.55px;font-size:10.9px;color:#474d6e;font-weight:700;transform:scaleX(1.0491);">129,239</span>
<span class="t" style="left:785.34px;top:542.10px;font-size:11px;color:#4d5373;transform:scaleX(1.0141);">Check-Out</span>
<span class="t" style="left:785.13px;top:557.75px;font-size:14.5px;color:#141414;font-weight:700;transform:scaleX(1.0710);">8.5k</span>
<span class="t" style="left:785.47px;top:591.90px;font-size:8.8px;color:#4d5373;transform:scaleX(0.9420);">Check-Out Abandonment</span>
<span class="t" style="left:785.35px;top:604.55px;font-size:10.9px;color:#474d6e;font-weight:700;transform:scaleX(1.0932);">3,780</span>
<span class="t" style="left:900.14px;top:542.10px;font-size:11px;color:#4d5373;transform:scaleX(0.9943);">Complete Order</span>
<span class="t" style="left:899.93px;top:557.75px;font-size:14.5px;color:#141414;font-weight:700;transform:scaleX(1.0710);">5.5k</span>
<span class="t" style="left:439.35px;top:604.55px;font-size:10.9px;color:#474d6e;font-weight:700;transform:scaleX(1.0899);">67,005</span>
<div style="position:absolute;left:26px;top:54px;width:384.5px;height:197px;background:#fff;border-radius:10px;box-shadow:0 5px 22px rgba(0,0,0,0.10);"></div>
<span class="t" style="left:57.29px;top:83.90px;font-size:20.2px;color:#111;transform:scaleX(1.0777);-webkit-text-stroke:0.3px #111;">Sales</span>
<span class="t" style="left:56.74px;top:138.80px;font-size:36px;color:#111;font-weight:700;transform:scaleX(1.1530);">$27632</span>
<span class="t" style="left:200.41px;top:151.15px;font-size:19.9px;color:#ef5050;transform:scaleX(1.0884);-webkit-text-stroke:0.35px #ef5050;">+2.5%</span>
<span class="t" style="left:57.36px;top:194.20px;font-size:19px;color:#545c7e;transform:scaleX(1.0150);">Compared to ($21340 last year)</span>
<svg width="1386" height="768" viewBox="0 0 1386 768" fill="none" stroke="#ef5050" stroke-width="1.7" stroke-linecap="round" stroke-linejoin="round"><path d="M276.6 168.4v-11.2M270.6 162.8l6-6 6 6"/></svg>
<div style="position:absolute;left:172.4px;top:446.1px;width:385.6px;height:166.5px;background:#fff;border-radius:10px;box-shadow:0 5px 22px rgba(0,0,0,0.10);"></div>
<svg width="1386" height="768" viewBox="0 0 1386 768" fill="none" stroke="#f04f4f" stroke-linecap="round" stroke-linejoin="round"><path d="M254.40 487.00A38.7 38.7 0 1 1 215.70 525.70" stroke-width="5"/><circle cx="253.95" cy="525.5" r="11.6" stroke-width="2.5"/><circle cx="253.95" cy="525.5" r="6.7" stroke-width="2.3"/><circle cx="253.95" cy="525.5" r="2.5" fill="#f04f4f" stroke="none"/><path d="M256.45 523.0l9-9" stroke="#fff" stroke-width="3.8" stroke-linecap="butt"/><path d="M253.95 525.5l10.2-10.2" stroke-width="2.1"/><path d="M262.34999999999997 517.1l.6-3.6 2-2 .6 2.4 2.4.6-2 2z" fill="#f04f4f" stroke-width="0.8"/></svg>
<span class="t" style="left:329.55px;top:492.55px;font-size:32.5px;color:#111;font-weight:700;transform:scaleX(1.0436);">68%</span>
<div style="position:absolute;left:325px;top:535px;width:140.3px;height:30px;overflow:hidden"><span class="t" style="left:5.86px;top:5.90px;font-size:19px;color:#545c7e;transform:scaleX(0.9900);">Hit Rate this year</span>
</div>
</body></html>
